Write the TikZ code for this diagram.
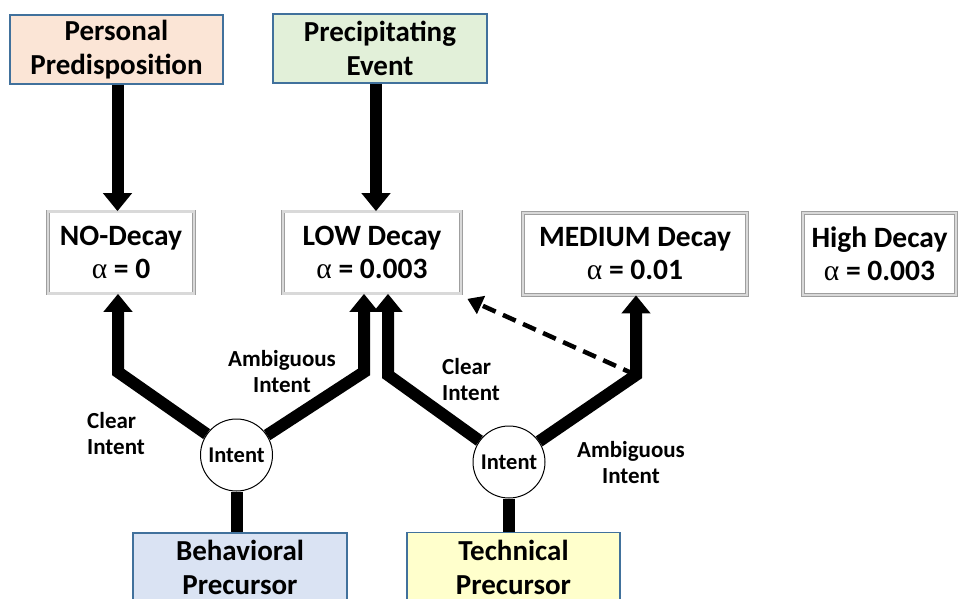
\documentclass[tikz,border=0pt]{standalone}
\usepackage{fontspec}
\setmainfont{Carlito}
\newfontfamily\alphafont{Liberation Serif}
\usetikzlibrary{arrows.meta,calc}
\definecolor{peach}{HTML}{FBE5D6}
\definecolor{mint}{HTML}{E2F0D9}
\definecolor{paleblue}{HTML}{DAE3F3}
\definecolor{paleyellow}{HTML}{FFFFCC}
\definecolor{edgeblue}{HTML}{41719C}
\tikzset{
  srcbox/.style={draw=edgeblue, line width=1.5pt, minimum height=69pt, inner sep=0pt, align=center,
    font={\bfseries\fontsize{29}{34}\selectfont}},
  decaybox/.style={draw=gray!75, double=gray!30, double distance=2.4pt, line width=0.7pt, fill=white,
    minimum height=82pt, inner sep=0pt, align=center, font={\bfseries\fontsize{29.5}{33}\selectfont}},
  intentcirc/.style={circle, draw=black, line width=1pt, fill=white, minimum size=72pt, inner sep=0pt,
    font={\bfseries\fontsize{22.5}{24}\selectfont}},
  lbl/.style={inner sep=0pt, font={\bfseries\fontsize{23}{26}\selectfont}},
  bigarrow/.style={line width=12pt, line join=miter, -{Triangle[width=28pt,length=18pt]}},
  bigline/.style={line width=12pt},
  dasharrow/.style={line width=4.5pt, dash pattern=on 14pt off 8pt, -{Triangle[width=19pt,length=15pt]}}
}
\newcommand{\alp}{{\alphafont\mdseries α}}
\begin{document}
\begin{tikzpicture}[x=1pt,y=-1pt]
\useasboundingbox (0,0) rectangle (959,598);
\clip (0,0) rectangle (959,598);
\fill[white] (0,0) rectangle (959,598);

% source boxes
\node[srcbox, fill=peach, minimum width=213pt] (pp) at (116.5,49.5) {Personal\\Predisposition};
\node[srcbox, fill=mint, minimum width=214pt] (pe) at (380,48.5) {Precipitating\\Event};
\node[srcbox, fill=paleblue, minimum width=214pt] (bp) at (240,567.5) {Behavioral\\Precursor};
\node[srcbox, fill=paleyellow, minimum width=213pt] (tp) at (513.5,567) {Technical\\Precursor};

% decay boxes
\node[decaybox, minimum width=146pt] (nod) at (121,252.5) {NO-Decay\\\alp{} = 0};
\node[decaybox, minimum width=178pt] (low) at (372,252.5) {LOW Decay\\\alp{} = 0.003};
\node[decaybox, minimum width=224pt] (med) at (635,254) {MEDIUM Decay\\\alp{} = 0.01};
\node[decaybox, minimum width=153pt] (high) at (879.5,254) {High Decay\\\alp{} = 0.003};

% intent circles
\node[intentcirc] (li) at (236.5,455) {Intent};
\node[intentcirc] (ri) at (509,462) {Intent};

% bend points
\coordinate (b1) at (118,372);
\coordinate (b2) at (364,372);
\coordinate (b3) at (388,375);
\coordinate (b4) at (636,375);

% top arrows
\draw[bigarrow] ([xshift=1pt]pp.south) -- ([xshift=1pt]pp.south |- nod.north);
\draw[bigarrow] ([xshift=-4pt]pe.south) -- ([xshift=-4pt]pe.south |- low.north);

% precursor to intent
\draw[bigline] (li) -- (li |- bp.north);
\draw[bigline] (ri) -- (ri |- tp.north);

% branches
\draw[bigarrow] (li) -- (b1) -- (b1 |- nod.south);
\draw[bigarrow] (li) -- (b2) -- (b2 |- low.south);
\draw[bigarrow] (ri) -- (b3) -- (b3 |- low.south);
\draw[bigarrow] (ri) -- (b4) -- (b4 |- med.south);

% dashed
\draw[dasharrow] (b4) -- ($(low.south east)+(6,5)$);

% labels
\node[lbl, anchor=west, align=left] (lc1) at (87,434) {Clear\\Intent};
\node[lbl, align=center] (la1) at (282,372) {Ambiguous\\Intent};
\node[lbl, anchor=west, align=left] (lc2) at (442,380) {Clear\\Intent};
\node[lbl, align=center] (la2) at (631,463) {Ambiguous\\Intent};
\end{tikzpicture}
\end{document}
